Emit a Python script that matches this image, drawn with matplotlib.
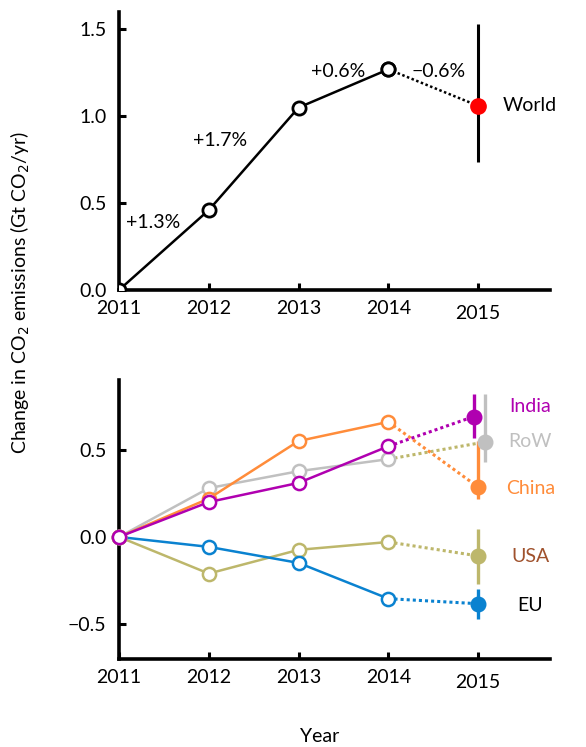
import matplotlib.pyplot as plt

plt.rcParams['font.family'] = ['Lato', 'DejaVu Sans']

YEARS = [2011, 2012, 2013, 2014]
YEAR_TICKS = [2011, 2012, 2013, 2014, 2015]

# World change vs 2011 (Gt CO2/yr), with 2015 projection and its range
WORLD = [0.0, 0.46, 1.05, 1.27]
WORLD_2015 = 1.06
WORLD_2015_RANGE = (0.735, 1.53)
WORLD_GROWTH = ["+1.3%", "+1.7%", "+0.6%", "\u22120.6%"]

# Regions: history 2011-2014, 2015 projection, projection range
REGIONS = ["India", "RoW", "China", "USA", "EU"]
REGION_HIST = {
    "India": [0.0, 0.20, 0.31, 0.52],
    "RoW":   [0.0, 0.28, 0.377, 0.446],
    "China": [0.0, 0.22, 0.55, 0.66],
    "USA":   [0.0, -0.21, -0.074, -0.029],
    "EU":    [0.0, -0.057, -0.149, -0.354],
}
REGION_2015 = {"India": 0.69, "RoW": 0.545, "China": 0.286, "USA": -0.109, "EU": -0.383}
REGION_RANGE = {
    "India": (0.57, 0.82),
    "RoW":   (0.43, 0.82),
    "China": (0.22, 0.55),
    "USA":   (-0.27, 0.046),
    "EU":    (-0.47, -0.30),
}

COLORS = {"India": "#b000b0", "RoW": "#c0c0c0", "China": "#ff8c3a",
          "USA": "#bdb76b", "EU": "#0a82d0"}
DOT_COLORS = {"India": "#b000b0", "RoW": "#bdb76b", "China": "#ff8c3a",
              "USA": "#bdb76b", "EU": "#0a82d0"}
LABEL_COLORS = {"India": "#b000b0", "RoW": "#c0c0c0", "China": "#ff8c3a",
                "USA": "#a0522d", "EU": "#000000"}
X2015 = {"India": 2014.95, "RoW": 2015.08, "China": 2015.0, "USA": 2015.0, "EU": 2015.0}
LABEL_Y = {"India": 0.75, "RoW": 0.55, "China": 0.275, "USA": -0.11, "EU": -0.395}

FS = 14

W, H = 586, 747
fig = plt.figure(figsize=(W / 100, H / 100), dpi=100)
ax1 = fig.add_axes([119 / W, 1 - 290 / H, 431 / W, 278 / H])
ax2 = fig.add_axes([119 / W, 1 - 659 / H, 431 / W, 279 / H])


def style_axes(ax):
    for s in ("top", "right"):
        ax.spines[s].set_visible(False)
    for s in ("left", "bottom"):
        ax.spines[s].set_linewidth(2.6)
    ax.tick_params(direction="in", length=5, width=2.2, labelsize=FS)
    ax.tick_params(axis="x", pad=7)
    ax.tick_params(axis="y", pad=9)
    ax.set_xlim(2011, 2015.8)
    ax.set_xticks(YEAR_TICKS)
    ax.set_xticklabels([str(y) for y in YEAR_TICKS])
    # 2015 label sits a bit lower than the others
    ax.xaxis.get_major_ticks()[-1].set_pad(11)


# top panel: world
ax1.plot(YEARS, WORLD, color="black", lw=1.8, marker="o", ms=9.5,
         mfc="white", mec="black", mew=2, zorder=3)
ax1.plot([YEARS[-1], 2015], [WORLD[-1], WORLD_2015], color="black",
         lw=1.8, ls=(0, (1, 1)), zorder=2)
ax1.vlines(2015, *WORLD_2015_RANGE, color="black", lw=2.2, zorder=2)
ax1.plot(2015, WORLD_2015, "o", color="#ff0000", ms=11, zorder=4)
ax1.plot(YEARS[-1], WORLD[-1], "o", ms=9.5, mfc="white", mec="black", mew=2, zorder=5)
growth_pos = [(2011.38, 0.39), (2012.12, 0.86), (2013.44, 1.26), (2014.56, 1.26)]
for txt, (x, y) in zip(WORLD_GROWTH, growth_pos):
    ax1.text(x, y, txt, ha="center", va="center", fontsize=FS)
ax1.text(2015.58, WORLD_2015, "World", ha="center", va="center", fontsize=FS)
ax1.set_ylim(0, 1.6)
ax1.set_yticks([0.0, 0.5, 1.0, 1.5])
ax1.set_yticklabels(["0.0", "0.5", "1.0", "1.5"])
style_axes(ax1)

# bottom panel: regions
for r in ["USA", "EU", "RoW", "China", "India"]:
    c = COLORS[r]
    x15 = X2015[r]
    ax2.plot([YEARS[-1], x15], [REGION_HIST[r][-1], REGION_2015[r]],
             color=DOT_COLORS[r], lw=2.2, ls=(0, (1, 1)), zorder=2)
    ax2.vlines(x15, *REGION_RANGE[r], color=c, lw=2.4, zorder=2)
    ax2.plot(YEARS, REGION_HIST[r], color=c, lw=1.8, marker="o", ms=9.5,
             mfc="white", mec=c, mew=1.8, clip_on=False, zorder=3)
    ax2.plot(x15, REGION_2015[r], "o", color=c, ms=10.5, zorder=4)
    ax2.text(2015.58, LABEL_Y[r], r, color=LABEL_COLORS[r], ha="center",
             va="center", fontsize=FS)
ax2.set_ylim(-0.7, 0.9)
ax2.set_yticks([-0.5, 0.0, 0.5])
ax2.set_yticklabels(["\u22120.5", "0.0", "0.5"])
style_axes(ax2)

fig.text(20 / W, 1 - 292 / H, "Change in CO$_2$ emissions (Gt CO$_2$/yr)",
         rotation=90, ha="center", va="center", fontsize=FS)
fig.text(320 / W, 1 - 737 / H, "Year", ha="center", va="center", fontsize=FS)

fig.savefig("out.png", dpi=100)
